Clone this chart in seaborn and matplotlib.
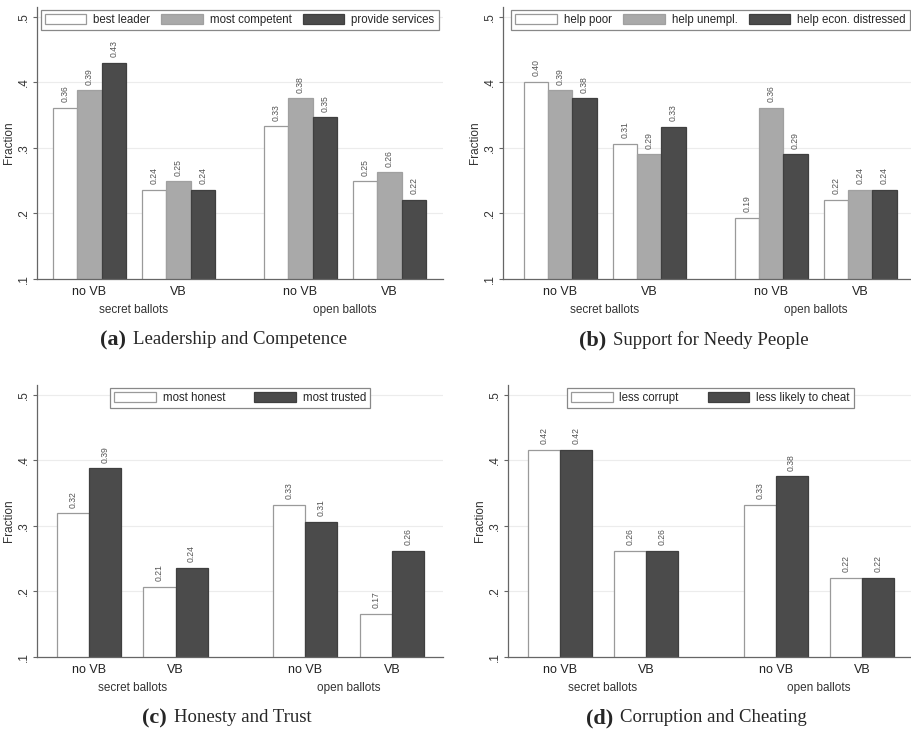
import numpy as np
import pandas as pd
import matplotlib
matplotlib.use("Agg")
import matplotlib.pyplot as plt
import matplotlib.patches as mpatches
import seaborn as sns

# values ordered: secret/no VB, secret/VB, open/no VB, open/VB
cells = ['no VB', 'VB', 'no VB', 'VB']
ballots = ['secret ballots', 'open ballots']

# (a) Leadership and Competence
a_series = ['best leader', 'most competent', 'provide services']
a_best_leader = [0.361, 0.236, 0.333, 0.249]
a_most_competent = [0.388, 0.249, 0.376, 0.263]
a_provide_services = [0.430, 0.236, 0.347, 0.221]

# (b) Support for Needy People
b_series = ['help poor', 'help unempl.', 'help econ. distressed']
b_help_poor = [0.401, 0.306, 0.193, 0.221]
b_help_unempl = [0.388, 0.290, 0.361, 0.236]
b_help_distressed = [0.376, 0.332, 0.290, 0.236]

# (c) Honesty and Trust
c_series = ['most honest', 'most trusted']
c_most_honest = [0.319, 0.207, 0.332, 0.166]
c_most_trusted = [0.388, 0.236, 0.306, 0.262]

# (d) Corruption and Cheating
d_series = ['less corrupt', 'less likely to cheat']
d_less_corrupt = [0.416, 0.262, 0.332, 0.221]
d_less_cheat = [0.416, 0.262, 0.376, 0.221]

captions = [('(a)', 'Leadership and Competence'),
            ('(b)', 'Support for Needy People'),
            ('(c)', 'Honesty and Trust'),
            ('(d)', 'Corruption and Cheating')]

sns.set_theme(style='white')
plt.rcParams['font.family'] = ['Liberation Sans', 'DejaVu Sans']

W, H = 912, 729
fig = plt.figure(figsize=(W / 100, H / 100), dpi=100)


def px_axes(left, top, right, bottom):
    return fig.add_axes([left / W, 1 - bottom / H, (right - left) / W, (bottom - top) / H])


def panel(ax, series, values, pos, width, colors, edges, xlim, legend_box, colspace=1.2):
    rows = []
    for name, vals in zip(series, values):
        for p, v in zip(pos, vals):
            rows.append({'pos': p, 'value': v, 'series': name})
    df = pd.DataFrame(rows)
    sns.barplot(data=df, x='pos', y='value', hue='series', hue_order=series,
                palette=colors, native_scale=True, width=width, legend=False,
                linewidth=0.9, saturation=1, ax=ax)
    for cont, ec in zip(ax.containers, edges):
        for bar in cont:
            bar.set_edgecolor(ec)
        ax.bar_label(cont, fmt='%.2f', rotation=90, padding=4, fontsize=6.2, color='#555555')

    ax.set_ylim(0.1, 0.515)
    ax.set_xlim(*xlim)
    ax.set_yticks([0.1, 0.2, 0.3, 0.4, 0.5])
    ax.set_yticklabels(['.1', '.2', '.3', '.4', '.5'], rotation=90, va='center',
                       fontsize=8.5, color='#333333')
    ax.set_xticks(pos)
    ax.set_xticklabels(cells, fontsize=9, color='#222222')
    ax.tick_params(axis='x', length=0, pad=5)
    ax.tick_params(axis='y', length=3, width=0.8, color='#666666', pad=2, left=True)
    ax.set_xlabel('')
    ax.set_ylabel('Fraction', fontsize=8.5, color='#333333', labelpad=2)
    ax.grid(axis='y', color='#ececec', linewidth=0.8)
    ax.set_axisbelow(True)
    for side in ['top', 'right']:
        ax.spines[side].set_visible(False)
    for side in ['left', 'bottom']:
        ax.spines[side].set_color('#666666')
        ax.spines[side].set_linewidth(0.9)

    for i, name in enumerate(ballots):
        mid = (pos[2 * i] + pos[2 * i + 1]) / 2
        ax.text(mid, -0.115, name, transform=ax.get_xaxis_transform(),
                ha='center', va='center', fontsize=8.5, color='#333333')

    handles = [mpatches.Patch(facecolor=c, edgecolor=e, linewidth=0.9, label=s)
               for s, c, e in zip(series, colors, edges)]
    leg = ax.legend(handles=handles, ncol=len(series), loc='lower left',
                    bbox_to_anchor=legend_box, mode='expand',
                    fontsize=8.3, frameon=True, fancybox=False, framealpha=1,
                    edgecolor='#888888', handlelength=3.6, handleheight=0.9,
                    handletextpad=0.6, columnspacing=colspace, borderpad=0.35,
                    borderaxespad=0)
    leg.get_frame().set_linewidth(0.9)


col3 = ['#ffffff', '#a9a9a9', '#4b4b4b']
edge3 = ['#9a9a9a', '#a0a0a0', '#3f3f3f']
col2 = ['#ffffff', '#4b4b4b']
edge2 = ['#9a9a9a', '#3f3f3f']

pos3 = [0, 1, 2.37, 3.37]
pos2 = [0, 1, 2.5, 3.5]

ax_a = px_axes(37, 7, 443, 279)
panel(ax_a, a_series, [a_best_leader, a_most_competent, a_provide_services],
      pos3, 0.817, col3, edge3, (-0.588, 3.97), (0.009, 0.915, 0.98, 0.08))

ax_b = px_axes(503, 7, 912, 279)
panel(ax_b, b_series, [b_help_poor, b_help_unempl, b_help_distressed],
      pos3, 0.817, col3, edge3, (-0.644, 3.95), (0.02, 0.915, 0.975, 0.08), colspace=0.8)

ax_c = px_axes(37, 385, 443, 657)
panel(ax_c, c_series, [c_most_honest, c_most_trusted],
      pos2, 0.74, col2, edge2, (-0.6, 4.09), (0.18, 0.915, 0.64, 0.08))

ax_d = px_axes(508, 385, 912, 657)
panel(ax_d, d_series, [d_less_corrupt, d_less_cheat],
      pos2, 0.74, col2, edge2, (-0.6, 4.08), (0.146, 0.915, 0.71, 0.08))

cap_pos = [(126, 340), (606, 340), (167, 718), (613, 718)]
for (tag, text), (x, y) in zip(captions, cap_pos):
    fig.text(x / W, 1 - y / H, tag, ha='right', va='center', fontsize=16,
             fontweight='bold', family=['Liberation Serif', 'DejaVu Serif'])
    fig.text((x + 7) / W, 1 - y / H, text, ha='left', va='center', fontsize=13.5,
             family=['Liberation Serif', 'DejaVu Serif'])

fig.savefig('out.png', dpi=100)
